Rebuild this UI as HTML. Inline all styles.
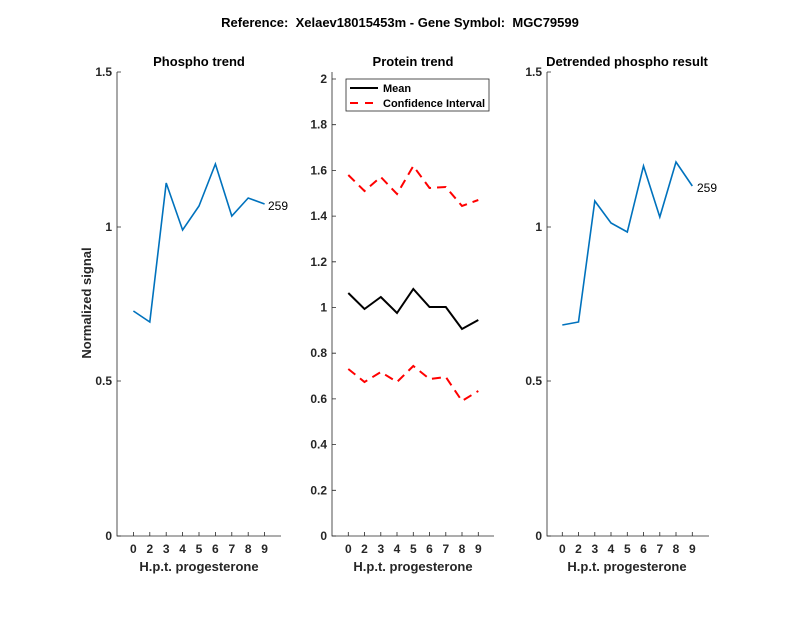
<!DOCTYPE html>
<html><head><meta charset="utf-8"><style>body{margin:0;background:#fff}svg{display:block}text{font-family:"Liberation Sans",sans-serif}</style></head>
<body>
<svg width="800" height="618" viewBox="0 0 800 618" xmlns="http://www.w3.org/2000/svg">
<rect width="800" height="618" fill="#fff"/>
<text x="400" y="27" text-anchor="middle" font-size="13" font-weight="bold" fill="#000" xml:space="preserve">Reference:  Xelaev18015453m - Gene Symbol:  MGC79599</text>

<!-- Left panel -->
<g stroke="#262626" stroke-width="0.8" fill="none">
<path d="M117,72 V536 H281"/>
<path d="M117,72 h4 M117,227 h4 M117,381 h4 M117,536 h4"/>
<path d="M133.4,536 v-4 M149.8,536 v-4 M166.2,536 v-4 M182.6,536 v-4 M199,536 v-4 M215.4,536 v-4 M231.8,536 v-4 M248.2,536 v-4 M264.6,536 v-4"/>
</g>
<g font-size="12" font-weight="bold" fill="#262626" text-anchor="end">
<text x="112" y="76">1.5</text><text x="112" y="231">1</text><text x="112" y="385">0.5</text><text x="112" y="540">0</text>
</g>
<g font-size="12" font-weight="bold" fill="#262626" text-anchor="middle">
<text x="133.4" y="553">0</text><text x="149.8" y="553">2</text><text x="166.2" y="553">3</text><text x="182.6" y="553">4</text><text x="199" y="553">5</text><text x="215.4" y="553">6</text><text x="231.8" y="553">7</text><text x="248.2" y="553">8</text><text x="264.6" y="553">9</text>
</g>
<text x="199" y="571" text-anchor="middle" font-size="13" font-weight="bold" fill="#262626">H.p.t. progesterone</text>
<text x="199" y="66" text-anchor="middle" font-size="13" font-weight="bold" fill="#000">Phospho trend</text>
<text transform="translate(91,303) rotate(-90)" text-anchor="middle" font-size="13" font-weight="bold" fill="#262626">Normalized signal</text>
<polyline fill="none" stroke="#0072BD" stroke-width="1.6" points="133.4,311 149.8,322 166.2,183 182.6,230 199,206 215.4,164 231.8,216 248.2,198 264.6,204"/>
<text x="268" y="210" font-size="12" fill="#000">259</text>

<!-- Middle panel -->
<g stroke="#262626" stroke-width="0.8" fill="none">
<path d="M332,72 V536 H494"/>
<path d="M332,536 h4 M332,490.3 h4 M332,444.6 h4 M332,398.9 h4 M332,353.2 h4 M332,307.5 h4 M332,261.8 h4 M332,216.1 h4 M332,170.4 h4 M332,124.7 h4 M332,79 h4"/>
<path d="M348.3,536 v-4 M364.5,536 v-4 M380.8,536 v-4 M397,536 v-4 M413.3,536 v-4 M429.5,536 v-4 M445.8,536 v-4 M462,536 v-4 M478.3,536 v-4"/>
</g>
<g font-size="12" font-weight="bold" fill="#262626" text-anchor="end">
<text x="327" y="540">0</text><text x="327" y="494.3">0.2</text><text x="327" y="448.6">0.4</text><text x="327" y="402.9">0.6</text><text x="327" y="357.2">0.8</text><text x="327" y="311.5">1</text><text x="327" y="265.8">1.2</text><text x="327" y="220.1">1.4</text><text x="327" y="174.4">1.6</text><text x="327" y="128.7">1.8</text><text x="327" y="83">2</text>
</g>
<g font-size="12" font-weight="bold" fill="#262626" text-anchor="middle">
<text x="348.3" y="553">0</text><text x="364.5" y="553">2</text><text x="380.8" y="553">3</text><text x="397" y="553">4</text><text x="413.3" y="553">5</text><text x="429.5" y="553">6</text><text x="445.8" y="553">7</text><text x="462" y="553">8</text><text x="478.3" y="553">9</text>
</g>
<text x="413" y="571" text-anchor="middle" font-size="13" font-weight="bold" fill="#262626">H.p.t. progesterone</text>
<text x="413" y="66" text-anchor="middle" font-size="13" font-weight="bold" fill="#000">Protein trend</text>
<polyline fill="none" stroke="#000" stroke-width="2" points="348.3,293 364.5,309 380.8,297 397,313 413.3,289 429.5,307 445.8,307 462,329 478.3,320"/>
<polyline fill="none" stroke="#f00" stroke-width="2" stroke-dasharray="9,6" points="348.3,175 364.5,191 380.8,177 397,194 413.3,166 429.5,188 445.8,187 462,206 478.3,200"/>
<polyline fill="none" stroke="#f00" stroke-width="2" stroke-dasharray="9,6" points="348.3,369 364.5,382 380.8,372 397,382 413.3,366 429.5,379 445.8,377 462,401 478.3,391"/>
<rect x="346" y="79" width="143" height="32" fill="#fff" stroke="#262626" stroke-width="0.8"/>
<line x1="350" y1="88" x2="378" y2="88" stroke="#000" stroke-width="2"/>
<line x1="350" y1="103" x2="378" y2="103" stroke="#f00" stroke-width="2" stroke-dasharray="8,7"/>
<text x="383" y="92" font-size="11" font-weight="bold" fill="#000">Mean</text>
<text x="383" y="107" font-size="11" font-weight="bold" fill="#000">Confidence Interval</text>

<!-- Right panel -->
<g stroke="#262626" stroke-width="0.8" fill="none">
<path d="M547,72 V536 H709"/>
<path d="M547,72 h4 M547,227 h4 M547,381 h4 M547,536 h4"/>
<path d="M562.3,536 v-4 M578.5,536 v-4 M594.8,536 v-4 M611,536 v-4 M627.3,536 v-4 M643.5,536 v-4 M659.8,536 v-4 M676,536 v-4 M692.3,536 v-4"/>
</g>
<g font-size="12" font-weight="bold" fill="#262626" text-anchor="end">
<text x="542" y="76">1.5</text><text x="542" y="231">1</text><text x="542" y="385">0.5</text><text x="542" y="540">0</text>
</g>
<g font-size="12" font-weight="bold" fill="#262626" text-anchor="middle">
<text x="562.3" y="553">0</text><text x="578.5" y="553">2</text><text x="594.8" y="553">3</text><text x="611" y="553">4</text><text x="627.3" y="553">5</text><text x="643.5" y="553">6</text><text x="659.8" y="553">7</text><text x="676" y="553">8</text><text x="692.3" y="553">9</text>
</g>
<text x="627" y="571" text-anchor="middle" font-size="13" font-weight="bold" fill="#262626">H.p.t. progesterone</text>
<text x="627" y="66" text-anchor="middle" font-size="13" font-weight="bold" fill="#000">Detrended phospho result</text>
<polyline fill="none" stroke="#0072BD" stroke-width="1.6" points="562.3,325 578.5,322 594.8,201 611,223 627.3,232 643.5,166 659.8,217 676,162 692.3,186"/>
<text x="697" y="192" font-size="12" fill="#000">259</text>
</svg>
</body></html>
